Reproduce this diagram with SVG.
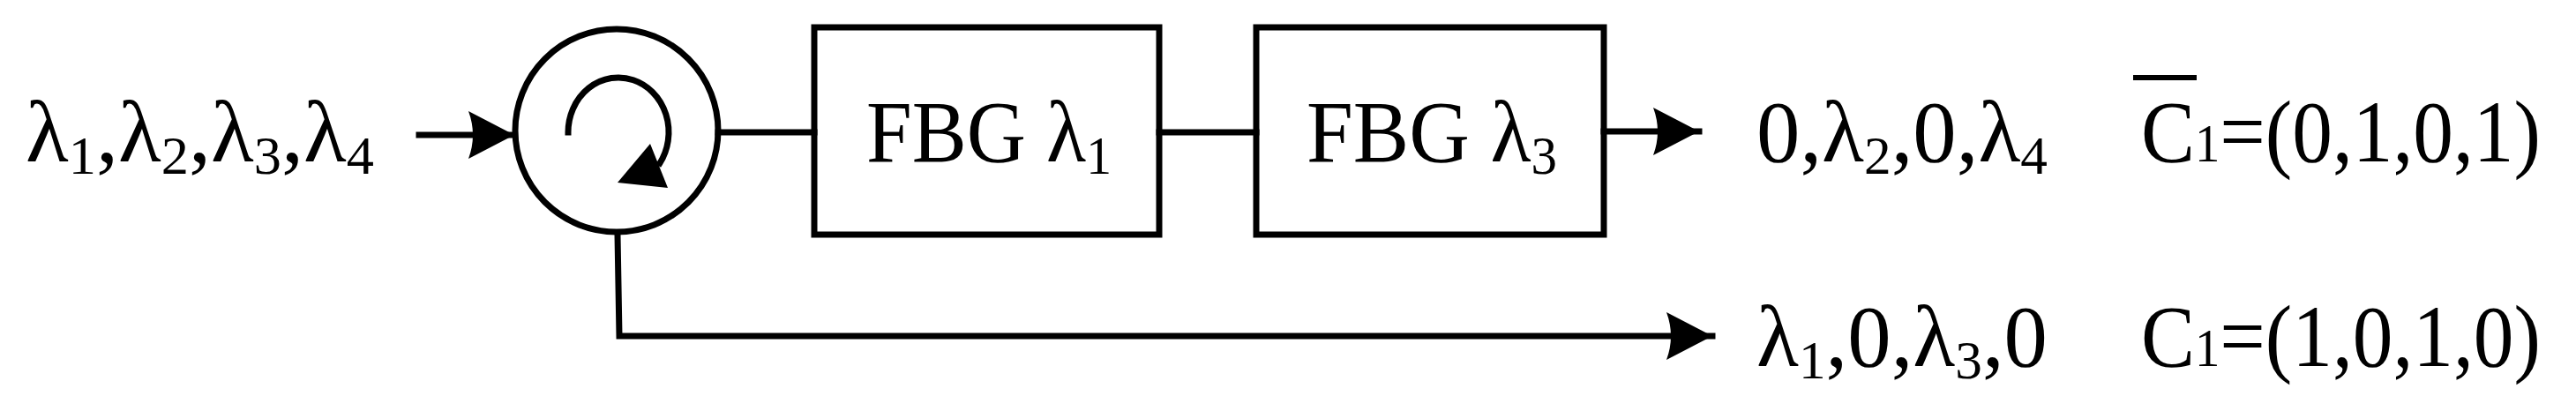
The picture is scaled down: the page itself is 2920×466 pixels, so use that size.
<svg xmlns="http://www.w3.org/2000/svg" width="2920" height="466" viewBox="0 0 2920 466">
<style>
.s{fill:none;stroke:#000;stroke-width:7;stroke-linecap:square;stroke-linejoin:miter}
text{font-family:"Liberation Serif","Times New Roman",serif;font-size:100px;fill:#000}
.sub{font-size:62px}
</style>
<defs>
<marker id="ah" markerWidth="60" markerHeight="60" refX="52" refY="27" orient="auto" markerUnits="userSpaceOnUse">
<path d="M0,0 L52,27 L0,54 Q10,27 0,0 Z" fill="#000"/>
</marker>
</defs>
<rect width="2920" height="466" fill="#fff"/>
<g id="input-label"><text x="29" y="183" textLength="395" lengthAdjust="spacingAndGlyphs">λ<tspan class="sub" dy="14">1</tspan><tspan dy="-14">,λ</tspan><tspan class="sub" dy="14">2</tspan><tspan dy="-14">,λ</tspan><tspan class="sub" dy="14">3</tspan><tspan dy="-14">,λ</tspan><tspan class="sub" dy="14">4</tspan></text></g>
<g id="circulator">
<circle class="s" cx="699" cy="148" r="115"/>
<path class="s" d="M644,150 A57,62 0 1 1 748,185"/>
<path d="M737,163 L757,213 L700,207 Z" fill="#000"/>
</g>
<g id="fbg1"><rect class="s" x="923" y="31" width="391" height="235"/><text x="982" y="183" textLength="278" lengthAdjust="spacingAndGlyphs">FBG λ<tspan class="sub" dy="14">1</tspan></text></g>
<g id="fbg2"><rect class="s" x="1424" y="31" width="394" height="235"/><text x="1481" y="183" textLength="284" lengthAdjust="spacingAndGlyphs">FBG λ<tspan class="sub" dy="14">3</tspan></text></g>
<g id="connectors">
<line class="s" x1="475" y1="153" x2="583" y2="153" marker-end="url(#ah)"/>
<line class="s" x1="814" y1="150" x2="923" y2="150"/>
<line class="s" x1="1314" y1="150" x2="1424" y2="150"/>
<line class="s" x1="1818" y1="149" x2="1926" y2="149" marker-end="url(#ah)"/>
<polyline class="s" points="700,266 702,381 1941,381" marker-end="url(#ah)"/>
</g>
<g id="out1"><text x="1991" y="183" textLength="330" lengthAdjust="spacingAndGlyphs">0,λ<tspan class="sub" dy="14">2</tspan><tspan dy="-14">,0,λ</tspan><tspan class="sub" dy="14">4</tspan></text></g>
<g id="code1"><line x1="2418" y1="88" x2="2490" y2="88" stroke="#000" stroke-width="6"/><text x="2427" y="183" textLength="453" lengthAdjust="spacingAndGlyphs">C<tspan class="sub">1</tspan>=(0,1,0,1)</text></g>
<g id="out2"><text x="1991" y="415" textLength="330" lengthAdjust="spacingAndGlyphs">λ<tspan class="sub" dy="14">1</tspan><tspan dy="-14">,0,λ</tspan><tspan class="sub" dy="14">3</tspan><tspan dy="-14">,0</tspan></text></g>
<g id="code2"><text x="2427" y="415" textLength="453" lengthAdjust="spacingAndGlyphs">C<tspan class="sub">1</tspan>=(1,0,1,0)</text></g>
</svg>
